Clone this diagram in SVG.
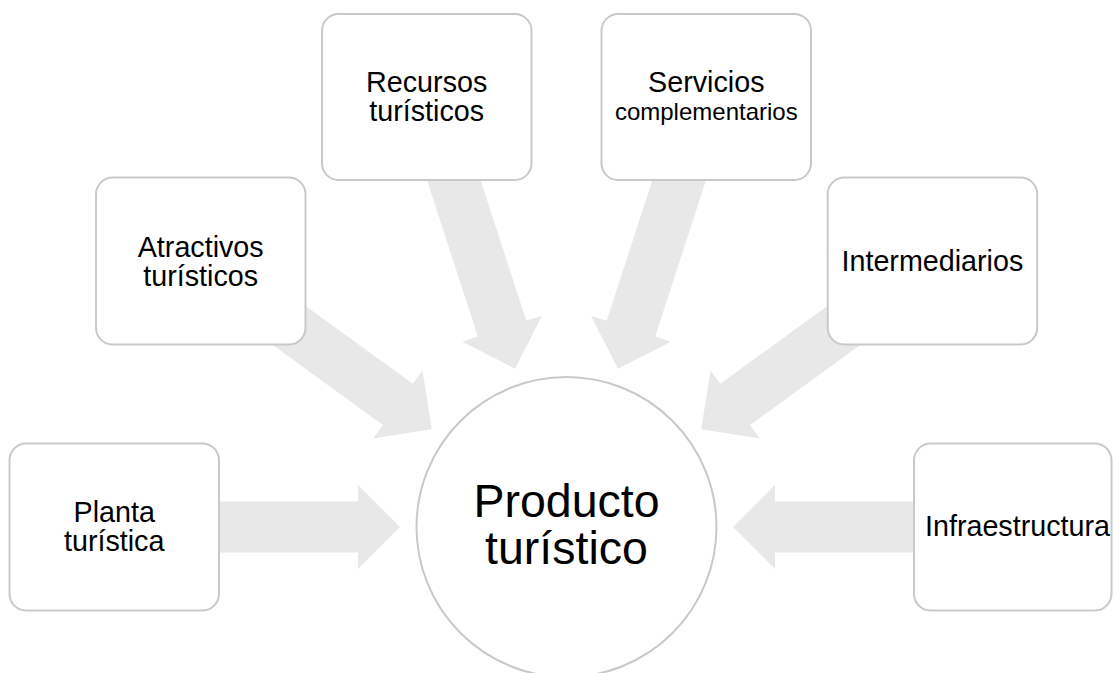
<svg xmlns="http://www.w3.org/2000/svg" width="1113" height="673" viewBox="0 0 1113 673">
  <style>
    .box { fill: #ffffff; stroke: #c9c9c9; stroke-width: 2; }
    .arrow { fill: #e8e8e8; stroke: none; }
    .t { font-family: "Liberation Sans", Arial, sans-serif; font-size: 28.7px; fill: #000000; text-anchor: middle; }
    .small { font-size: 24px; }
    .big { font-size: 46.5px; }
  </style>
  <defs>
    <path id="arr" d="M -416.5,-25.5 H -208.5 V -42 L -166.5,0 L -208.5,42 V 25.5 H -416.5 Z"/>
  </defs>
  <rect width="1113" height="673" fill="#ffffff"/>
  <g id="connectors">
    <use href="#arr" class="arrow" transform="translate(566.5,527) rotate(0)"/>
    <use href="#arr" class="arrow" transform="translate(566.5,527) rotate(36)"/>
    <use href="#arr" class="arrow" transform="translate(566.5,527) rotate(72)"/>
    <use href="#arr" class="arrow" transform="translate(566.5,527) rotate(108)"/>
    <use href="#arr" class="arrow" transform="translate(566.5,527) rotate(144)"/>
    <use href="#arr" class="arrow" transform="translate(566.5,527) rotate(180)"/>
  </g>
  <g id="producto">
    <circle class="box" cx="566.5" cy="527" r="150"/>
    <text class="t big" x="566.5" y="517">Producto</text>
    <text class="t big" x="566.5" y="563.5">turístico</text>
  </g>
  <g id="planta">
    <rect class="box" x="9.5" y="443.5" width="209.5" height="167" rx="16.7"/>
    <text class="t" x="114.2" y="522">Planta</text>
    <text class="t" x="114.2" y="551">turística</text>
  </g>
  <g id="atractivos">
    <rect class="box" x="96" y="177.5" width="209.5" height="167" rx="16.7"/>
    <text class="t" x="200.7" y="256.5">Atractivos</text>
    <text class="t" x="200.7" y="285.5">turísticos</text>
  </g>
  <g id="recursos">
    <rect class="box" x="322" y="14" width="209.5" height="166" rx="16.7"/>
    <text class="t" x="426.7" y="92">Recursos</text>
    <text class="t" x="426.7" y="120.5">turísticos</text>
  </g>
  <g id="servicios">
    <rect class="box" x="601.5" y="14" width="209.5" height="166" rx="16.7"/>
    <text class="t" x="706.3" y="92">Servicios</text>
    <text class="t small" x="706.3" y="120">complementarios</text>
  </g>
  <g id="intermediarios">
    <rect class="box" x="827.7" y="177.5" width="209.5" height="167" rx="16.7"/>
    <text class="t" x="932.4" y="270.5">Intermediarios</text>
  </g>
  <g id="infraestructura">
    <rect class="box" x="914" y="443.5" width="197.5" height="167" rx="16.7"/>
    <text class="t" x="1017.5" y="536">Infraestructura</text>
  </g>
</svg>
